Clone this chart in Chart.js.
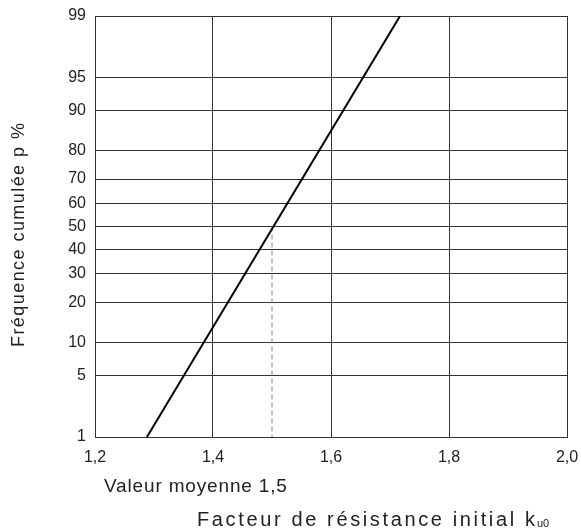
<!DOCTYPE html>
<html>
<head>
<meta charset="utf-8">
<script src="https://cdn.jsdelivr.net/npm/chart.js@4/dist/chart.umd.min.js"></script>
<style>
  html, body { margin: 0; padding: 0; background: #fff; }
  #wrap { width: 581px; height: 530px; }
</style>
</head>
<body>
<div id="wrap"><canvas id="probChart"></canvas></div>
<script>
// probabilites cumulees (axe y, echelle gaussienne)
const probTicks = [1, 5, 10, 20, 30, 40, 50, 60, 70, 80, 90, 95, 99];
const probLabels = ["1", "5", "10", "20", "30", "40", "50", "60", "70", "80", "90", "95", "99"];
// droite de Henry
const kValues = [1.288, 1.717];
const pValues = [1, 99];
// valeur moyenne
const meanK = 1.5;
const meanP = [50, 1];
const xTicks = [1.2, 1.4, 1.6, 1.8, 2.0];

// inverse de la loi normale (Acklam)
function probit(pct) {
    const p = pct / 100;
    const a = [-39.69683028665376, 220.9460984245205, -275.9285104469687, 138.3577518672690, -30.66479806614716, 2.506628277459239];
    const b = [-54.47609879822406, 161.5858368580409, -155.6989798598866, 66.80131188771972, -13.28068155288572];
    const c = [-0.007784894002430293, -0.3223964580411365, -2.400758277161838, -2.549732539343734, 4.374664141464968, 2.938163982698783];
    const d = [0.007784695709041462, 0.3224671290700398, 2.445134137142996, 3.754408661907416];
    const pl = 0.02425;
    let q, r;
    if (p < pl) {
        q = Math.sqrt(-2 * Math.log(p));
        return (((((c[0]*q+c[1])*q+c[2])*q+c[3])*q+c[4])*q+c[5]) / ((((d[0]*q+d[1])*q+d[2])*q+d[3])*q+1);
    }
    if (p > 1 - pl) {
        q = Math.sqrt(-2 * Math.log(1 - p));
        return -(((((c[0]*q+c[1])*q+c[2])*q+c[3])*q+c[4])*q+c[5]) / ((((d[0]*q+d[1])*q+d[2])*q+d[3])*q+1);
    }
    q = p - 0.5;
    r = q * q;
    return (((((a[0]*r+a[1])*r+a[2])*r+a[3])*r+a[4])*r+a[5])*q / (((((b[0]*r+b[1])*r+b[2])*r+b[3])*r+b[4])*r+1);
}

const FONT = "'Liberation Sans', Arial, sans-serif";

// texte etire a une largeur donnee (police d'origine plus large)
function spacedText(c, text, x, y, width) {
    c.letterSpacing = '0px';
    const w = c.measureText(text).width;
    const sp = Math.max(0, (width - w) / (text.length - 1));
    c.letterSpacing = sp.toFixed(2) + 'px';
    c.fillText(text, x, y);
    const end = x + c.measureText(text).width - sp;
    c.letterSpacing = '0px';
    return end;
}

const titles = {
    id: 'titles',
    afterDraw(chart) {
        const c = chart.ctx;
        c.save();
        c.fillStyle = '#222';
        c.textBaseline = 'middle';
        c.textAlign = 'left';
        c.font = '19px ' + FONT;
        spacedText(c, 'Valeur moyenne 1,5', 104, 487, 183);
        c.font = '20px ' + FONT;
        const end = spacedText(c, 'Facteur de résistance initial k', 197, 520, 338);
        c.font = '11px ' + FONT;
        c.fillText('u0', end + 2, 524);
        // titre axe y
        c.translate(19, 235);
        c.rotate(-Math.PI / 2);
        c.font = '18px ' + FONT;
        spacedText(c, 'Fréquence cumulée p %', -112, 0, 224);
        c.restore();
    }
};

const ctx = document.getElementById('probChart');
new Chart(ctx, {
    type: 'scatter',
    data: {
        datasets: [{
            data: kValues.map((k, i) => ({ x: k, y: probit(pValues[i]) })),
            showLine: true,
            borderColor: '#000',
            borderWidth: 2,
            pointRadius: 0
        }, {
            data: meanP.map(p => ({ x: meanK, y: probit(p) })),
            showLine: true,
            borderColor: '#888',
            borderWidth: 1,
            borderDash: [5, 3],
            pointRadius: 0
        }]
    },
    options: {
        responsive: true,
        maintainAspectRatio: false,
        animation: false,
        layout: { padding: { top: 16, right: 14, left: 0, bottom: 0 } },
        plugins: {
            legend: { display: false },
            tooltip: { enabled: false }
        },
        scales: {
            x: {
                type: 'linear',
                min: 1.2,
                max: 2.0,
                afterBuildTicks: function (scale) {
                    scale.ticks = xTicks.map(v => ({ value: v }));
                },
                afterFit: function (scale) {
                    scale.height = 93;
                    scale.paddingLeft = 0;
                    scale.paddingRight = 0;
                },
                grid: { color: '#333', lineWidth: 1, drawTicks: false },
                border: { color: '#333', width: 1 },
                ticks: {
                    padding: 11,
                    color: '#222',
                    font: { size: 16, family: FONT },
                    callback: function (value) {
                        return value.toFixed(1).replace('.', ',');
                    }
                }
            },
            y: {
                type: 'linear',
                min: probit(1),
                max: probit(99),
                afterBuildTicks: function (scale) {
                    scale.ticks = probTicks.map(p => ({ value: probit(p) }));
                },
                afterFit: function (scale) {
                    scale.width = 95;
                    scale.paddingTop = 0;
                    scale.paddingBottom = 0;
                },
                grid: { color: '#333', lineWidth: 1, drawTicks: false },
                border: { color: '#333', width: 1 },
                ticks: {
                    padding: 9,
                    color: '#222',
                    font: { size: 16, family: FONT },
                    callback: function (value, index) {
                        return probLabels[index];
                    }
                }
            }
        }
    },
    plugins: [titles]
});
</script>
</body>
</html>
